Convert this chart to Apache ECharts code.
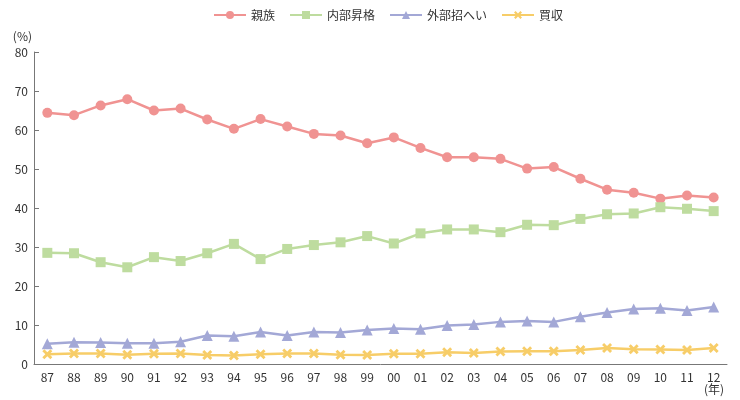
<!DOCTYPE html>
<html><head><meta charset="utf-8">
<script src="https://cdn.jsdelivr.net/npm/echarts@6/dist/echarts.min.js"></script>
<style>html,body{margin:0;padding:0;background:#fff}#c{width:740px;height:400px}</style>
</head><body><div id="c"></div>
<script>
const categories = ['87','88','89','90','91','92','93','94','95','96','97','98','99','00','01','02','03','04','05','06','07','08','09','10','11','12'];
const shinzoku = [64.4,63.8,66.3,67.9,65.0,65.5,62.7,60.3,62.8,60.9,59.0,58.6,56.6,58.1,55.4,53.0,53.0,52.6,50.1,50.5,47.5,44.7,43.9,42.4,43.2,42.7];
const naibu = [28.5,28.4,26.1,24.8,27.4,26.4,28.4,30.8,26.9,29.5,30.5,31.2,32.8,30.9,33.5,34.5,34.5,33.8,35.7,35.6,37.2,38.4,38.6,40.2,39.8,39.2];
const gaibu = [5.2,5.6,5.5,5.3,5.3,5.7,7.3,7.1,8.2,7.3,8.2,8.1,8.7,9.1,8.9,9.9,10.1,10.8,11.0,10.8,12.1,13.2,14.1,14.3,13.7,14.6];
const baishu = [2.5,2.7,2.7,2.4,2.6,2.7,2.3,2.2,2.5,2.7,2.7,2.4,2.3,2.6,2.6,3.0,2.8,3.2,3.3,3.3,3.6,4.1,3.8,3.7,3.6,4.1];
const seriesNames = ['親族','内部昇格','外部招へい','買収'];
const yTicks = [0,10,20,30,40,50,60,70,80];

const FONT = '"Noto Sans CJK JP","Noto Sans",sans-serif';
const colors = ['#f09392','#bedc9f','#a3a8d6','#f7cd68'];
const xPath = 'path://M2,0 L5,3 L8,0 L10,2 L7,5 L10,8 L8,10 L5,7 L2,10 L0,8 L3,5 L0,2 Z';
const symbols = ['circle','rect','triangle',xPath];
const sizes = [10,10,11,10];
const datas = [shinzoku,naibu,gaibu,baishu];

const chart = echarts.init(document.getElementById('c'));
chart.setOption({
  animation:false,
  color:colors,
  textStyle:{fontFamily:FONT},
  legend:{
    top:4, left:208, itemWidth:32, itemHeight:10, itemGap:14,
    textStyle:{fontFamily:FONT,fontSize:12,color:'#333'},
    data:seriesNames
  },
  grid:{left:34,right:13,top:52,bottom:36},
  xAxis:{
    type:'category', data:categories, boundaryGap:true,
    axisLine:{lineStyle:{color:'#777',width:1}},
    axisTick:{inside:true,length:5,lineStyle:{color:'#777'}},
    axisLabel:{color:'#333',fontSize:12,fontFamily:FONT,margin:7},
    name:'(年)', nameLocation:'end', nameGap:0,
    nameTextStyle:{color:'#333',fontSize:12,fontFamily:FONT,align:'right',verticalAlign:'top',padding:[19,3,0,0]}
  },
  yAxis:{
    type:'value', min:yTicks[0], max:yTicks[yTicks.length-1], interval:10,
    axisLine:{show:true,lineStyle:{color:'#777',width:1}},
    axisTick:{show:true,inside:true,length:5,lineStyle:{color:'#777'}},
    splitLine:{show:false},
    axisLabel:{color:'#333',fontSize:12,fontFamily:FONT,margin:6},
    name:'(%)', nameLocation:'end', nameGap:10,
    nameTextStyle:{color:'#333',fontSize:12,fontFamily:FONT,align:'right',padding:[0,2,0,0]}
  },
  series: seriesNames.map((n,i)=>({
    name:n, type:'line', data:datas[i],
    symbol:symbols[i], symbolSize:sizes[i], showSymbol:true,
    lineStyle:{width:2.5,color:colors[i]},
    itemStyle:{color:colors[i]}
  }))
});
</script></body></html>
